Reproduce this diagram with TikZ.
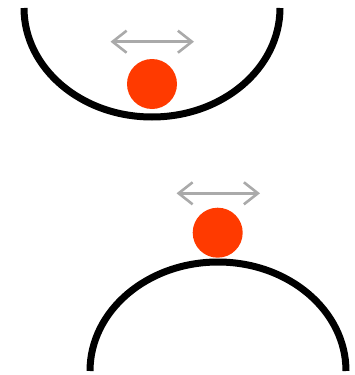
\documentclass[tikz,border=0pt]{standalone}
\usetikzlibrary{arrows.meta}
\definecolor{ballred}{HTML}{FF3A00}
\definecolor{arrgray}{HTML}{AAAAAA}
\begin{document}
\begin{tikzpicture}[x=1pt,y=1pt,
  surface/.style={line width=7pt,black},
  ball/.style={circle,fill=ballred,minimum size=50pt,inner sep=0pt},
  motion/.style={arrgray,line width=2.6pt,{Straight Barb[length=14pt,width=22pt]}-{Straight Barb[length=14pt,width=22pt]}}]
\useasboundingbox (0,0) rectangle (354,-375);
% top: bowl
\draw[surface] (24,-8) arc[start angle=180,end angle=360,x radius=128,y radius=109];
\node[ball] (b1) at (152,-84) {};
\coordinate (a1l) at (110.5,-41.7);
\coordinate (a1r) at (194,-41.7);
\draw[motion] (a1l) -- (a1r);
% bottom: dome
\draw[surface] (90,-371) arc[start angle=180,end angle=0,x radius=128,y radius=109];
\node[ball] (b2) at (217.7,-232.7) {};
\coordinate (a2l) at (176.5,-193.3);
\coordinate (a2r) at (260,-193.3);
\draw[motion] (a2l) -- (a2r);
\end{tikzpicture}
\end{document}
